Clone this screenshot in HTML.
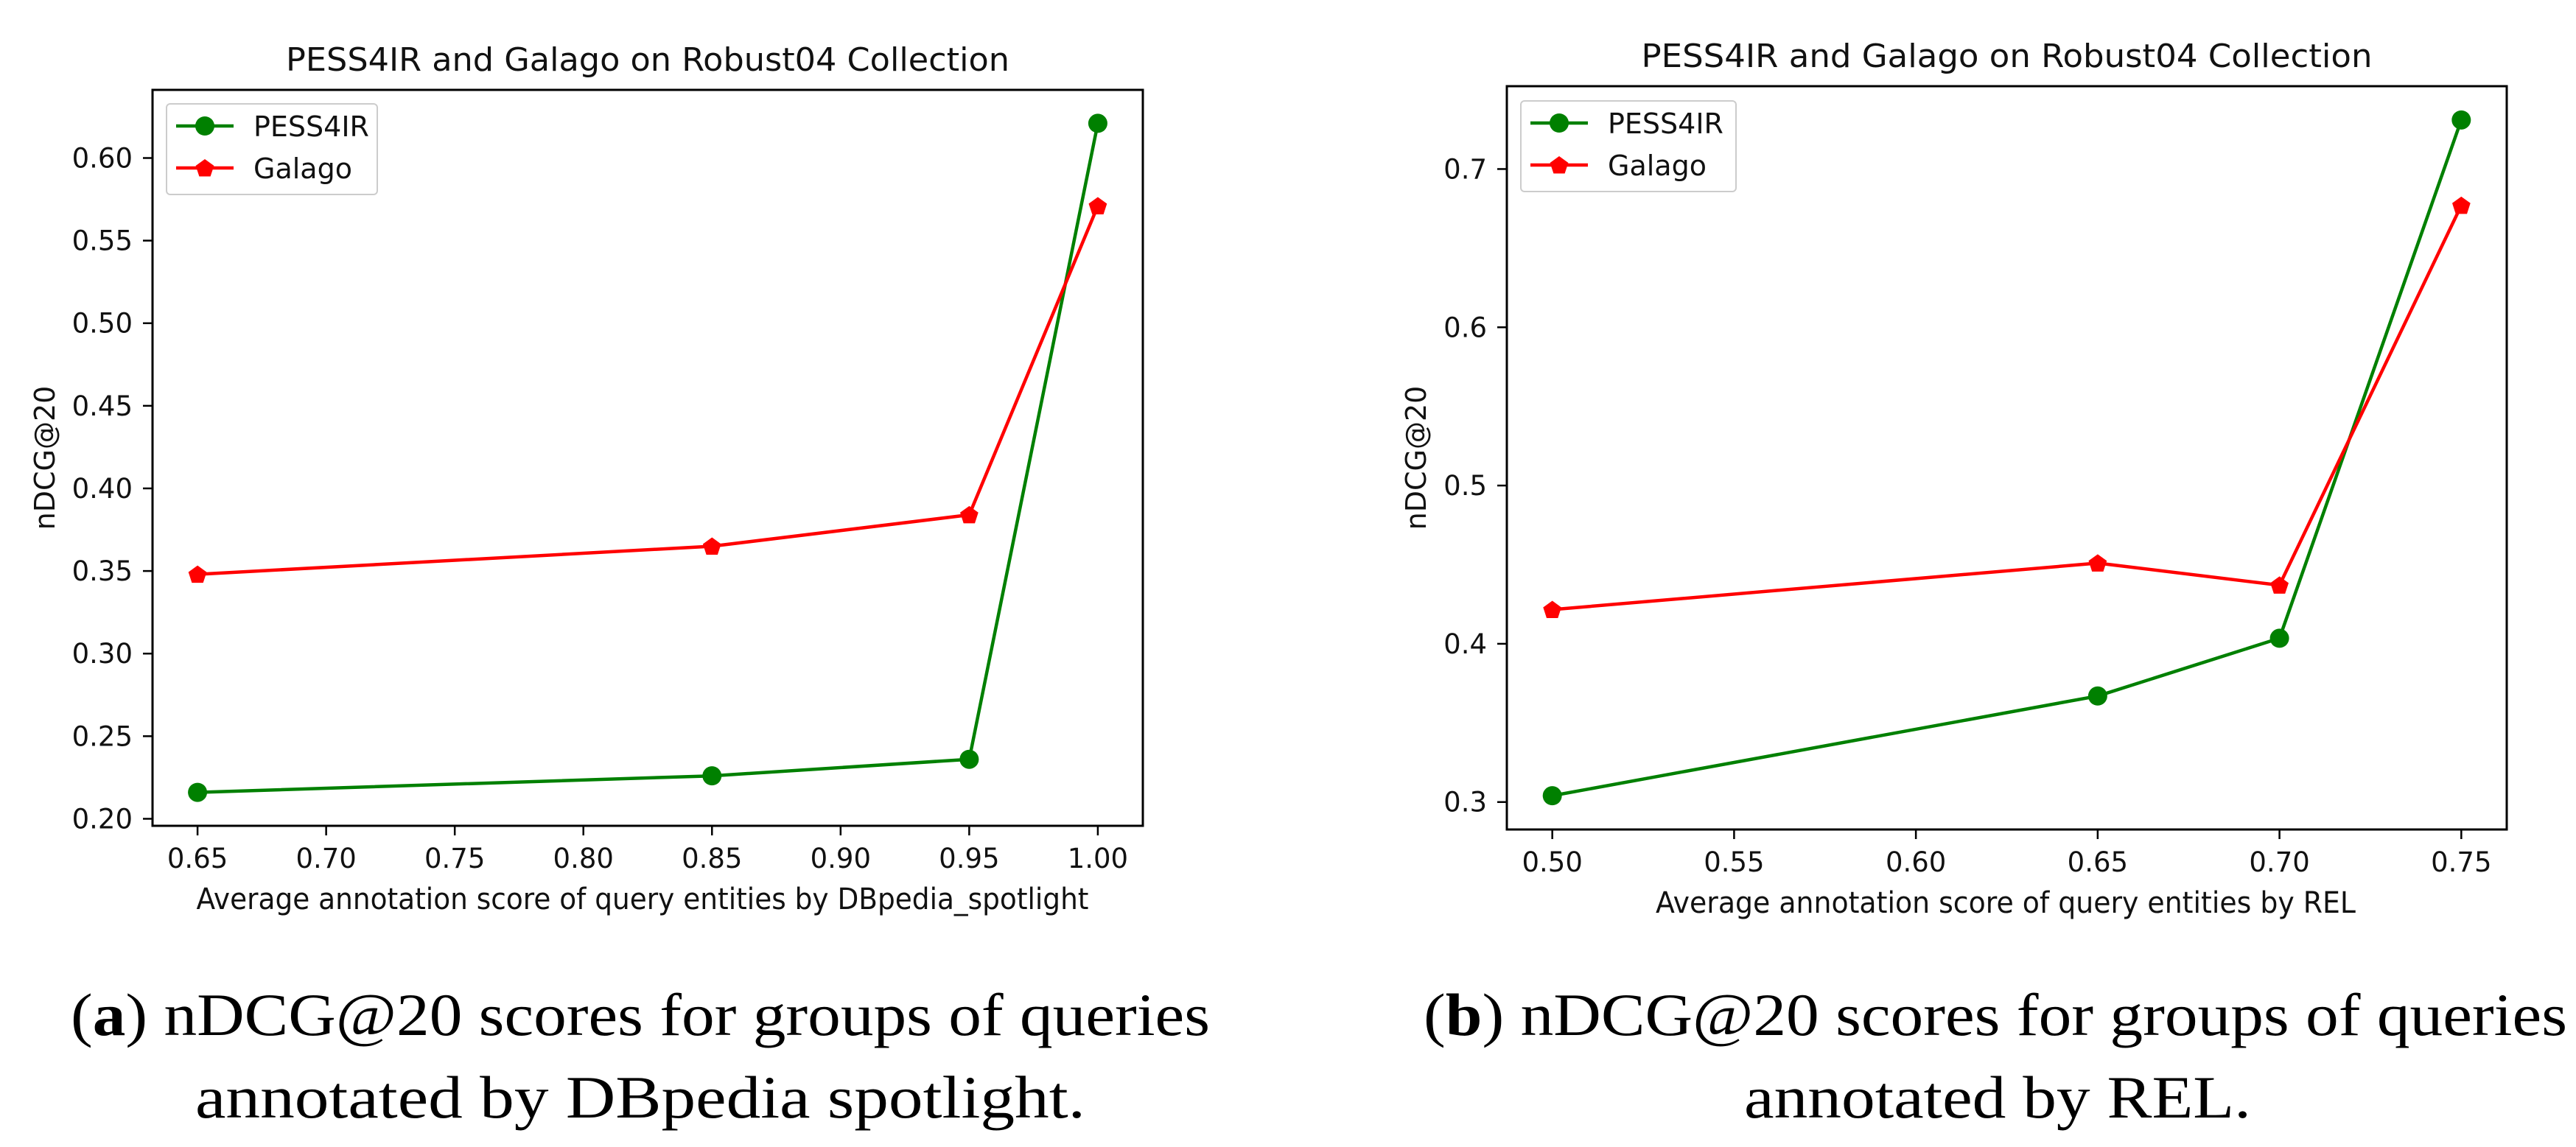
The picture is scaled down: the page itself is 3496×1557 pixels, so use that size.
<!DOCTYPE html>
<html><head><meta charset="utf-8"><style>
html,body{margin:0;padding:0;background:#fff;}
svg{display:block;}
</style></head><body>
<svg id="fig" width="3496" height="1557" viewBox="0 0 3496 1557" xmlns="http://www.w3.org/2000/svg">
<rect x="0" y="0" width="3496" height="1557" fill="#fff"/>
<text x="869" y="1405" font-family="Liberation Serif, serif" font-size="82" text-anchor="middle" textLength="1546" lengthAdjust="spacingAndGlyphs">(<tspan font-weight="bold">a</tspan>) nDCG@20 scores for groups of queries</text>
<text x="869" y="1517" font-family="Liberation Serif, serif" font-size="82" text-anchor="middle" textLength="1208" lengthAdjust="spacingAndGlyphs">annotated by DBpedia spotlight.</text>
<text x="2708" y="1405" font-family="Liberation Serif, serif" font-size="82" text-anchor="middle" textLength="1552" lengthAdjust="spacingAndGlyphs">(<tspan font-weight="bold">b</tspan>) nDCG@20 scores for groups of queries</text>
<text x="2711" y="1517" font-family="Liberation Serif, serif" font-size="82" text-anchor="middle" textLength="688" lengthAdjust="spacingAndGlyphs">annotated by REL.</text>
</svg>
<script>
// Chart A data
const xA = [0.65, 0.85, 0.95, 1.00];
const pessA = [0.216, 0.226, 0.236, 0.621];
const galA = [0.348, 0.365, 0.384, 0.571];
const xTicksA = [0.65, 0.70, 0.75, 0.80, 0.85, 0.90, 0.95, 1.00];
const yTicksA = [0.20, 0.25, 0.30, 0.35, 0.40, 0.45, 0.50, 0.55, 0.60];
// Chart B data
const xB = [0.50, 0.65, 0.70, 0.75];
const pessB = [0.304, 0.367, 0.4035, 0.731];
const galB = [0.4216, 0.451, 0.437, 0.677];
const xTicksB = [0.50, 0.55, 0.60, 0.65, 0.70, 0.75];
const yTicksB = [0.3, 0.4, 0.5, 0.6, 0.7];

const NS = 'http://www.w3.org/2000/svg';
const svg = document.getElementById('fig');
function mk(tag, attrs, parent) {
  const e = document.createElementNS(NS, tag);
  for (const k in attrs) e.setAttribute(k, attrs[k]);
  (parent || svg).appendChild(e);
  return e;
}
function pentagon(cx, cy, r) {
  const pts = [];
  for (let i = 0; i < 5; i++) {
    const a = -Math.PI / 2 + i * 2 * Math.PI / 5;
    pts.push((cx + r * Math.cos(a)).toFixed(1) + ',' + (cy + r * Math.sin(a)).toFixed(1));
  }
  return pts.join(' ');
}
function extent(arrs) {
  let lo = Infinity, hi = -Infinity;
  arrs.forEach(a => a.forEach(v => { lo = Math.min(lo, v); hi = Math.max(hi, v); }));
  const p = (hi - lo) * 0.05;
  return [lo - p, hi + p];
}
function chart(cfg) {
  const g = mk('g', {});
  
  
  const [x0, x1] = extent([cfg.x]);
  const [y0, y1] = extent([cfg.p, cfg.g]);
  const sx = v => cfg.L + (v - x0) / (x1 - x0) * (cfg.R - cfg.L);
  const sy = v => cfg.B - (v - y0) / (y1 - y0) * (cfg.B - cfg.T);
  const font = 'DejaVu Sans, Liberation Sans, sans-serif';
  // title
  const t = mk('text', {x: (cfg.L + cfg.R) / 2, y: cfg.T - 26, 'font-family': font, 'font-size': 44, 'text-anchor': 'middle', fill: '#111', textLength: cfg.titleW, lengthAdjust: 'spacingAndGlyphs'}, g);
  t.textContent = 'PESS4IR and Galago on Robust04 Collection';
  
  
  // ticks
  cfg.xt.forEach(v => {
    const x = sx(v);
    const tk = mk('line', {x1: x, x2: x, y1: cfg.B, y2: cfg.B + 13, stroke: '#000', 'stroke-width': 2.5}, g);
    
    
    const tl = mk('text', {x: x, y: cfg.B + 57, 'font-family': font, 'font-size': 37, 'text-anchor': 'middle', fill: '#111'}, g);
    tl.textContent = v.toFixed(2);
    
    
  });
  cfg.yt.forEach(v => {
    const y = sy(v);
    const tk = mk('line', {x1: cfg.L - 13, x2: cfg.L, y1: y, y2: y, stroke: '#000', 'stroke-width': 2.5}, g);
    
    
    const tl = mk('text', {x: cfg.L - 27, y: y + 13, 'font-family': font, 'font-size': 37, 'text-anchor': 'end', fill: '#111'}, g);
    tl.textContent = v.toFixed(cfg.yDec);
    
    
  });
  // axis labels
  const xl = mk('text', {x: cfg.xlX, y: cfg.B + 113, 'font-family': font, 'font-size': 40, 'text-anchor': 'middle', fill: '#111', textLength: cfg.xlW, lengthAdjust: 'spacingAndGlyphs'}, g);
  xl.textContent = cfg.xlabel;
  
  
  const yl = mk('text', {x: 0, y: 0, 'font-family': font, 'font-size': 38, 'text-anchor': 'middle', fill: '#111', transform: 'translate(' + cfg.ylX + ',' + ((cfg.T + cfg.B) / 2) + ') rotate(-90)'}, g);
  yl.textContent = 'nDCG@20';
  
  
  // series
  const series = [
    {vals: cfg.p, color: '#008000', mark: 'circle', name: 'pess4ir'},
    {vals: cfg.g, color: '#ff0000', mark: 'pent', name: 'galago'}
  ];
  series.forEach(s => {
    const pts = cfg.x.map((xv, i) => sx(xv).toFixed(1) + ',' + sy(s.vals[i]).toFixed(1)).join(' ');
    const pl = mk('polyline', {points: pts, fill: 'none', stroke: s.color, 'stroke-width': 4.5, 'stroke-linejoin': 'round'}, g);
    
    
    cfg.x.forEach((xv, i) => {
      let m;
      if (s.mark === 'circle') m = mk('circle', {cx: sx(xv), cy: sy(s.vals[i]), r: 13, fill: s.color}, g);
      else m = mk('polygon', {points: pentagon(sx(xv), sy(s.vals[i]) + 1, 13), fill: s.color}, g);
      
      
    });
  });
  // frame
  const fr = mk('rect', {x: cfg.L, y: cfg.T, width: cfg.R - cfg.L, height: cfg.B - cfg.T, fill: 'none', stroke: '#000', 'stroke-width': 3}, g);
  
  
  // legend
  const lg = mk('g', {}, g);
  
  
  mk('rect', {x: cfg.lgX, y: cfg.lgY, width: cfg.lgW, height: 123, rx: 5, fill: '#fff', stroke: '#ccc', 'stroke-width': 2}, lg);
  series.forEach((s, i) => {
    const yy = cfg.lgY + 30 + i * 57;
    const ent = mk('g', {}, lg);
    
    
    mk('line', {x1: cfg.lgX + 13, x2: cfg.lgX + 91, y1: yy, y2: yy, stroke: s.color, 'stroke-width': 4.5}, ent);
    if (s.mark === 'circle') mk('circle', {cx: cfg.lgX + 52, cy: yy, r: 13, fill: s.color}, ent);
    else mk('polygon', {points: pentagon(cfg.lgX + 52, yy + 1, 13), fill: s.color}, ent);
    const tx = mk('text', {x: cfg.lgX + 118, y: yy + 14, 'font-family': font, 'font-size': 38, fill: '#111'}, ent);
    tx.textContent = i === 0 ? 'PESS4IR' : 'Galago';
  });
}
chart({name: 'chart-a-dbpedia', L: 207, R: 1551, T: 122, B: 1121, x: xA, p: pessA, g: galA, xt: xTicksA, yt: yTicksA, yDec: 2,
  titleW: 982, xlabel: 'Average annotation score of query entities by DBpedia_spotlight', xlX: 872, xlW: 1211, ylX: 74,
  lgX: 226, lgY: 141, lgW: 286});
chart({name: 'chart-b-rel', L: 2045, R: 3402, T: 117, B: 1126, x: xB, p: pessB, g: galB, xt: xTicksB, yt: yTicksB, yDec: 1,
  titleW: 992, xlabel: 'Average annotation score of query entities by REL', xlX: 2722, xlW: 950, ylX: 1935,
  lgX: 2064, lgY: 137, lgW: 292});
</script>
</body></html>
